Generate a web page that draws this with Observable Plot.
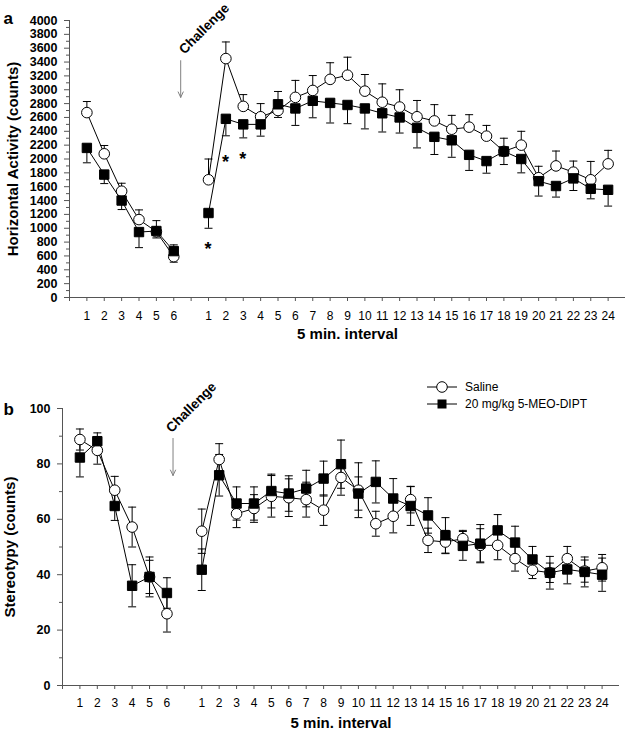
<!DOCTYPE html>
<html>
<head>
<meta charset="utf-8">
<script src="https://cdn.jsdelivr.net/npm/d3@7"></script>
<script src="https://cdn.jsdelivr.net/npm/@observablehq/plot@0.6"></script>
<style>
  body { margin: 0; background: #fff; }
  #chart { position: relative; width: 625px; height: 738px; font-family: "Liberation Sans", Arial, sans-serif; }
  #chart svg { display: block; }
  #legend { position: absolute; left: 420px; top: 376px; }
</style>
</head>
<body>
<div id="chart"></div>
<script>
// ---------- data ----------
const seriesNames = ["Saline", "20 mg/kg 5-MEO-DIPT"];
const preIntervals = [1, 2, 3, 4, 5, 6];
const postIntervals = [1, 2, 3, 4, 5, 6, 7, 8, 9, 10, 11, 12, 13, 14, 15, 16, 17, 18, 19, 20, 21, 22, 23, 24];

// Panel a: Horizontal activity (counts), mean and SEM
const activitySalinePre = [2670, 2075, 1535, 1125, 950, 590];
const activitySalinePreSem = [160, 120, 115, 140, 160, 170];
const activityDrugPre = [2160, 1775, 1400, 945, 960, 670];
const activityDrugPreSem = [215, 130, 130, 225, 100, 160];
const activitySalinePost = [1700, 3450, 2760, 2610, 2700, 2890, 2990, 3150, 3210, 2980, 2820, 2750, 2610, 2550, 2430, 2460, 2330, 2110, 2200, 1730, 1900, 1810, 1700, 1930];
const activitySalinePostSem = [300, 240, 170, 190, 275, 245, 215, 240, 260, 240, 265, 250, 235, 235, 200, 180, 155, 190, 200, 165, 215, 160, 265, 195];
const activityDrugPost = [1220, 2580, 2500, 2500, 2790, 2730, 2840, 2810, 2780, 2730, 2660, 2600, 2450, 2320, 2270, 2060, 1970, 2110, 2000, 1680, 1610, 1720, 1570, 1555];
const activityDrugPostSem = [220, 245, 195, 170, 190, 245, 245, 290, 270, 295, 270, 225, 290, 255, 245, 225, 175, 190, 200, 215, 160, 175, 145, 235];

// Panel b: Stereotypy (counts), mean and SEM
const stereoSalinePre = [88.8, 84.9, 70.5, 57.2, 39.2, 25.9];
const stereoSalinePreSem = [3.8, 5, 5, 7.2, 6, 6.6];
const stereoDrugPre = [82.3, 88.2, 64.8, 36, 39.2, 33.4];
const stereoDrugPreSem = [7, 3, 5.2, 7.6, 7.2, 5.5];
const stereoSalinePost = [55.7, 81.6, 62, 63.9, 68.3, 67.8, 67.1, 63.3, 75.1, 70.5, 58.4, 61.1, 67.1, 52.4, 51.8, 53, 50.6, 50.6, 45.8, 41.6, 40.7, 45.8, 41.3, 42.5];
const stereoSalinePostSem = [8, 5.7, 5, 5, 7.5, 6.8, 6.3, 5.5, 6.4, 9.9, 4.5, 6, 4.8, 4.4, 4.2, 3, 6, 5.2, 4.5, 3, 3.5, 4.4, 4, 4.8];
const stereoDrugPost = [41.8, 75.9, 65.7, 65.7, 70.2, 69.3, 71.1, 74.7, 79.9, 69.3, 73.5, 67.5, 64.8, 61.4, 54.2, 50.4, 51.2, 56, 51.6, 45.5, 40.7, 41.9, 41, 40];
const stereoDrugPostSem = [7.5, 7.5, 6, 6, 6.1, 6.4, 6.6, 6.3, 8.7, 6, 7.6, 7.2, 7, 6.4, 6.4, 5.2, 6.9, 5.7, 5.9, 4.7, 5.9, 5.2, 5.4, 6];

// Annotations
const challengeText = "Challenge";
const activitySigIntervals = [1, 2, 3];     // post-challenge intervals marked with *
const activitySigValues = [690, 1950, 1990];

// ---------- helpers ----------
const slotOf = (phase, i) => phase === "pre" ? i : i + preIntervals.length + 1;
const tickLabel = new Map([
  ...preIntervals.map(i => [slotOf("pre", i), String(i)]),
  ...postIntervals.map(i => [slotOf("post", i), String(i)])
]);
const slotTicks = d3.range(0, preIntervals.length + postIntervals.length + 2);

function buildRows(series, phase, intervals, values, sems) {
  return intervals.map((iv, k) => ({
    series, phase, slot: slotOf(phase, iv), value: values[k], sem: sems[k]
  }));
}

const capSymbol = { draw(ctx) { ctx.moveTo(-4, 0); ctx.lineTo(4, 0); } };
const axisColor = "#555";
const FONT = '"Liberation Sans", Arial, sans-serif';

function makePanel(cfg) {
  const rows = cfg.rows;
  const err = rows.map(d => {
    let lo, hi, caps;
    if (cfg.oneSided) {
      if (d.series === seriesNames[0]) { lo = d.value; hi = d.value + d.sem; caps = [hi]; }
      else { lo = d.value - d.sem; hi = d.value; caps = [lo]; }
    } else {
      lo = d.value - d.sem; hi = d.value + d.sem; caps = [lo, hi];
    }
    return { slot: d.slot, lo, hi, caps, series: d.series };
  });
  const capRows = err.flatMap(e => e.caps.map(c => ({ slot: e.slot, v: c })));
  const saline = rows.filter(d => d.series === seriesNames[0]);
  const drug = rows.filter(d => d.series === seriesNames[1]);

  const marks = [
    Plot.ruleY([cfg.yDomain[0]], { stroke: axisColor }),
    Plot.ruleX([0], { stroke: axisColor }),
    Plot.axisX({ ticks: slotTicks, tickFormat: s => tickLabel.get(s) ?? "", tickSize: 4, tickPadding: cfg.xTickPadding, fontSize: 12, stroke: axisColor, fill: "black", label: null }),
    Plot.axisY({ ticks: cfg.majorTicks, tickFormat: d => String(d), tickSize: 5, tickPadding: 7, fontSize: 12.5, fontWeight: "bold", stroke: axisColor, fill: "black", label: null }),
    Plot.axisY({ ticks: cfg.minorTicks, tickSize: 3, tickFormat: () => "", stroke: axisColor, label: null }),
    Plot.text([cfg.xLabel], { text: d => d, frameAnchor: "bottom", dy: cfg.xLabelDy, textAnchor: "middle", lineAnchor: "middle", fontSize: 15, fontWeight: "bold", fill: "black" }),
    Plot.text([cfg.yLabel], { text: d => d, frameAnchor: "left", dx: cfg.yLabelDx, rotate: -90, textAnchor: "middle", lineAnchor: "middle", fontSize: 15, fontWeight: "bold", fill: "black" }),
    Plot.text([cfg.letter], { text: d => d, frameAnchor: "top-left", dx: cfg.letterDx, dy: cfg.letterDy, textAnchor: "start", lineAnchor: "middle", fontSize: 17, fontWeight: "bold", fill: "black" }),
    Plot.arrow([cfg.arrow], { x1: "x", x2: "x", y1: "y1", y2: "y2", stroke: "#808080", strokeWidth: 1, headLength: 9, headAngle: 50 }),
    Plot.text([cfg.challenge], { x: "x", y: "y", text: d => challengeText, rotate: -45, textAnchor: "middle", lineAnchor: "middle", fontSize: 13.5, fontWeight: "bold", fill: "black" }),
    Plot.ruleX(err, { x: "slot", y1: "lo", y2: "hi", stroke: "black", strokeWidth: 1 }),
    Plot.dot(capRows, { x: "slot", y: "v", symbol: capSymbol, stroke: "black", fill: "none", strokeWidth: 1 }),
    Plot.line(rows, { x: "slot", y: "value", z: d => d.series + d.phase, stroke: "black", strokeWidth: 1 }),
    Plot.dot(saline, { x: "slot", y: "value", symbol: "circle", r: 5.3, fill: "white", stroke: "black", strokeWidth: 1 }),
    Plot.dot(drug, { x: "slot", y: "value", symbol: "square", r: 5.3, fill: "black", stroke: "black", strokeWidth: 1 })
  ];
  if (cfg.sig) {
    marks.push(Plot.text(cfg.sig, { x: "slot", y: "v", dx: "dx", text: d => "*", textAnchor: "middle", lineAnchor: "middle", fontSize: 18, fontWeight: "bold", fill: "black" }));
  }
  return Plot.plot({
    width: 625,
    height: cfg.height,
    marginTop: cfg.marginTop,
    marginBottom: cfg.marginBottom,
    marginLeft: cfg.marginLeft,
    marginRight: cfg.marginRight,
    style: { fontFamily: FONT, background: "white", color: "black", overflow: "visible" },
    x: { type: "linear", domain: [0, slotTicks.length] },
    y: { type: "linear", domain: cfg.yDomain },
    marks
  });
}

// ---------- panel a ----------
const rowsA = [
  ...buildRows(seriesNames[0], "pre", preIntervals, activitySalinePre, activitySalinePreSem),
  ...buildRows(seriesNames[0], "post", postIntervals, activitySalinePost, activitySalinePostSem),
  ...buildRows(seriesNames[1], "pre", preIntervals, activityDrugPre, activityDrugPreSem),
  ...buildRows(seriesNames[1], "post", postIntervals, activityDrugPost, activityDrugPostSem)
];
const sigA = activitySigIntervals.map((iv, k) => ({ slot: slotOf("post", iv), v: activitySigValues[k], dx: k === 1 ? 3 : 0 }));

const panelA = makePanel({
  rows: rowsA, oneSided: true,
  yDomain: [0, 4000],
  majorTicks: d3.range(0, 4001, 200),
  minorTicks: d3.range(100, 4000, 200),
  height: 345, marginTop: 20, marginBottom: 48, marginLeft: 69, marginRight: 0,
  xTickPadding: 10,
  xLabel: "5 min. interval", xLabelDy: 37,
  yLabel: "Horizontal Activity (counts)", yLabelDx: -56,
  letter: "a", letterDx: -66, letterDy: -2,
  arrow: { x: 6.4, y1: 3420, y2: 2890 },
  challenge: { x: 7.75, y: 3880 },
  sig: sigA
});

// ---------- panel b ----------
const rowsB = [
  ...buildRows(seriesNames[0], "pre", preIntervals, stereoSalinePre, stereoSalinePreSem),
  ...buildRows(seriesNames[0], "post", postIntervals, stereoSalinePost, stereoSalinePostSem),
  ...buildRows(seriesNames[1], "pre", preIntervals, stereoDrugPre, stereoDrugPreSem),
  ...buildRows(seriesNames[1], "post", postIntervals, stereoDrugPost, stereoDrugPostSem)
];

const panelB = makePanel({
  rows: rowsB, oneSided: false,
  yDomain: [0, 100],
  majorTicks: d3.range(0, 101, 20),
  minorTicks: d3.range(10, 100, 20),
  height: 393, marginTop: 63, marginBottom: 53, marginLeft: 62, marginRight: 6,
  xTickPadding: 9,
  xLabel: "5 min. interval", xLabelDy: 38,
  yLabel: "Stereotypy (counts)", yLabelDx: -52,
  letter: "b", letterDx: -59, letterDy: 1,
  arrow: { x: 6.35, y1: 89.2, y2: 75.8 },
  challenge: { x: 7.4, y: 100.4 }
});

const chart = document.getElementById("chart");
chart.appendChild(panelA);
chart.appendChild(panelB);

// ---------- legend ----------
const legend = d3.select(chart).append("div").attr("id", "legend")
  .append("svg").attr("width", 200).attr("height", 40)
  .style("font-family", FONT).style("font-size", "12px");
seriesNames.forEach((name, i) => {
  const g = legend.append("g").attr("transform", `translate(0, ${11 + i * 17})`);
  g.append("line").attr("x1", 7).attr("x2", 37).attr("stroke", "black");
  if (i === 0) g.append("circle").attr("cx", 22).attr("r", 5.3).attr("fill", "white").attr("stroke", "black");
  else g.append("rect").attr("x", 17.5).attr("y", -4.5).attr("width", 9).attr("height", 9).attr("fill", "black");
  g.append("text").attr("x", 45).attr("dy", "0.35em").text(name);
});
</script>
</body>
</html>
